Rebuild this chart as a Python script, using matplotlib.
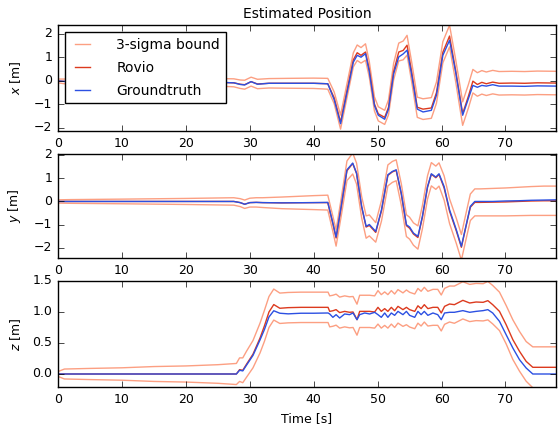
import numpy as np
import matplotlib
matplotlib.use('Agg')
import matplotlib.pyplot as plt

# ---- data (time in s, values in m) ----
# x position
t_x = [0, 1, 5, 10, 15, 20, 25, 27.5, 28.5, 29.2, 30.2, 31.2, 33, 36, 40, 42.2,
       43.2, 44.2, 45.2, 46.2, 46.8, 47.4, 48.1, 48.7, 49.5, 50.1, 51.1, 51.7,
       52.5, 53.3, 54.0, 54.6, 55.3, 56.2, 57.1, 58.4, 59.2, 60.2, 61.25, 62.2,
       63.3, 64.2, 64.9, 65.6, 66.3, 67.0, 68.0, 69.0, 71, 73, 75, 77.9]
gt_x = [0.0, -0.02, -0.03, -0.04, -0.05, -0.05, -0.06, -0.08, -0.15, -0.17, -0.03,
        -0.14, -0.1, -0.1, -0.1, -0.12, -0.8, -1.82, -0.5, 0.8, 1.09, 1.01, 1.16,
        0.38, -1.05, -1.46, -1.63, -1.2, 0.3, 1.02, 1.15, 1.31, 0.3, -1.2, -1.32,
        -1.25, -0.61, 1.09, 1.73, 0.38, -1.46, -0.75, -0.19, -0.27, -0.19, -0.22,
        -0.16, -0.22, -0.22, -0.23, -0.21, -0.22]
rovio_x = [0.0, -0.02, -0.03, -0.04, -0.05, -0.05, -0.06, -0.08, -0.14, -0.16, -0.03,
           -0.13, -0.1, -0.1, -0.1, -0.12, -0.72, -1.75, -0.42, 0.9, 1.2, 1.09, 1.23,
           0.48, -0.98, -1.4, -1.55, -1.12, 0.4, 1.23, 1.3, 1.52, 0.42, -1.12, -1.2,
           -1.15, -0.5, 1.22, 1.91, 0.45, -1.39, -0.65, -0.01, -0.15, -0.06, -0.12,
           -0.05, -0.1, -0.09, -0.1, -0.08, -0.09]
sig3_x = [0.08, 0.1, 0.12, 0.13, 0.14, 0.15, 0.16, 0.17, 0.18, 0.19, 0.19, 0.2,
          0.2, 0.21, 0.22, 0.23, 0.25, 0.3, 0.3, 0.3, 0.33, 0.33, 0.35, 0.33, 0.3,
          0.3, 0.3, 0.32, 0.35, 0.38, 0.4, 0.42, 0.42, 0.43, 0.44, 0.44, 0.45, 0.45,
          0.46, 0.47, 0.5, 0.5, 0.5, 0.5, 0.5, 0.5, 0.5, 0.5, 0.5, 0.5, 0.5, 0.5]

# y position
t_y = [0, 2, 10, 20, 27.5, 28.5, 29.2, 30, 31, 32, 35, 40, 42.2, 43.0, 43.5, 44.3,
       45.2, 46.1, 46.7, 47.5, 48.2, 48.7, 49.7, 50.6, 51.6, 52.3, 52.9, 53.7, 54.5,
       55.0, 55.6, 56.3, 57.0, 57.8, 58.4, 59.1, 59.6, 60.4, 61.25, 62.3, 63.1, 63.8,
       64.5, 65.2, 66, 68, 70, 72, 74, 76, 77.9]
gt_y = [0.0, 0.0, 0.0, 0.0, 0.0, -0.05, -0.12, -0.05, -0.04, -0.05, -0.06, -0.05,
        -0.04, -0.93, -1.53, -0.2, 1.36, 1.65, 1.22, -0.21, -1.07, -0.99, -1.29,
        -0.36, 1.15, 1.29, 1.36, 0.36, -1.0, -1.1, -1.36, -1.5, -0.64, 0.64, 1.19,
        1.05, 1.19, 0.64, -0.36, -1.21, -1.93, -1.07, -0.21, 0.0, 0.0, 0.0, 0.02,
        0.03, 0.05, 0.06, 0.07]
rovio_y = [0.0, 0.0, 0.0, 0.0, 0.0, -0.05, -0.12, -0.05, -0.04, -0.05, -0.06, -0.05,
           -0.05, -0.97, -1.57, -0.25, 1.32, 1.63, 1.2, -0.25, -1.1, -1.03, -1.33,
           -0.4, 1.12, 1.27, 1.34, 0.3, -1.04, -1.15, -1.4, -1.55, -0.68, 0.6, 1.17,
           1.02, 1.16, 0.58, -0.42, -1.26, -1.97, -1.1, -0.25, -0.04, -0.04, -0.03,
           -0.02, 0.0, 0.02, 0.03, 0.03]
sig3_y = [0.07, 0.08, 0.1, 0.13, 0.16, 0.17, 0.18, 0.19, 0.2, 0.21, 0.25, 0.3, 0.32,
          0.33, 0.35, 0.38, 0.42, 0.45, 0.45, 0.46, 0.48, 0.45, 0.42, 0.44, 0.45,
          0.45, 0.45, 0.46, 0.47, 0.47, 0.48, 0.5, 0.5, 0.5, 0.5, 0.5, 0.5, 0.52,
          0.53, 0.54, 0.55, 0.56, 0.57, 0.58, 0.58, 0.59, 0.6, 0.61, 0.62, 0.63, 0.63]

# z position
t_z = [0, 1, 5, 10, 15, 20, 25, 27.9, 28.4, 28.9, 29.5, 30.5, 31.6, 32.3, 33.0,
       33.75, 34.7, 36, 38, 40, 42.24, 42.5, 43.0, 43.5, 44.06, 44.84, 45.6, 46.15,
       46.77, 47.19, 47.97, 48.75, 49.53, 50.05, 50.57, 51.1, 51.6, 52.14, 52.66,
       53.18, 53.96, 54.5, 55.0, 55.8, 56.3, 56.8, 57.3, 57.86, 58.65, 59.4, 59.95,
       60.47, 61.25, 62.0, 63.33, 64.4, 65.4, 66.5, 67.24, 68.0, 69.06, 70.1, 71.15,
       72.19, 73.23, 74.27, 77.9]
gt_z = [0.0, 0.0, 0.0, 0.0, 0.0, 0.0, 0.0, 0.0, 0.06, 0.05, 0.145, 0.3, 0.55, 0.72,
        0.92, 1.02, 0.98, 0.97, 0.98, 0.98, 0.984, 0.968, 0.914, 0.957, 0.903, 0.968,
        0.957, 0.984, 0.876, 0.957, 0.984, 0.968, 0.995, 0.957, 0.914, 0.984, 0.914,
        0.984, 0.946, 1.01, 0.957, 1.01, 0.946, 0.914, 1.01, 0.957, 1.01, 0.946,
        0.984, 0.957, 0.876, 0.984, 0.995, 0.995, 1.022, 0.995, 1.01, 1.022, 1.038,
        0.984, 0.849, 0.634, 0.419, 0.231, 0.097, 0.0, 0.0]
rovio_z = [0.0, 0.0, 0.0, 0.0, 0.0, 0.0, 0.0, 0.0, 0.07, 0.06, 0.16, 0.32, 0.58, 0.78,
           1.0, 1.12, 1.06, 1.07, 1.075, 1.075, 1.075, 1.01, 1.02, 1.038, 0.99, 1.01,
           0.995, 1.0, 0.876, 1.01, 1.01, 1.01, 1.0, 1.075, 1.01, 1.054, 1.01, 1.075,
           1.02, 1.091, 1.038, 1.075, 1.038, 1.01, 1.1, 1.054, 1.118, 1.054, 1.075,
           1.075, 0.984, 1.091, 1.129, 1.118, 1.188, 1.145, 1.161, 1.156, 1.183,
           1.118, 1.01, 0.796, 0.554, 0.366, 0.204, 0.108, 0.108]
sig3_z = [0.04, 0.08, 0.09, 0.1, 0.12, 0.13, 0.15, 0.17, 0.19, 0.2, 0.21, 0.22, 0.24,
          0.25, 0.25, 0.25, 0.245, 0.245, 0.245, 0.245, 0.245, 0.25, 0.25, 0.25, 0.25,
          0.25, 0.25, 0.25, 0.25, 0.26, 0.26, 0.26, 0.26, 0.27, 0.27, 0.27, 0.27, 0.27,
          0.27, 0.27, 0.27, 0.28, 0.28, 0.28, 0.28, 0.28, 0.28, 0.28, 0.29, 0.29, 0.29,
          0.29, 0.29, 0.3, 0.3, 0.3, 0.3, 0.3, 0.31, 0.31, 0.31, 0.31, 0.32, 0.32, 0.32,
          0.33, 0.33]

ylabels = ['$x$ [m]', '$y$ [m]', '$z$ [m]']
ylims = [(-2.13, 2.38), (-2.43, 2.04), (-0.21, 1.5)]

# ---- style ----
plt.style.use('classic')
plt.rcParams['figure.facecolor'] = 'white'
plt.rcParams['savefig.facecolor'] = 'white'
plt.rcParams['font.family'] = 'DejaVu Sans'
plt.rcParams['mathtext.fontset'] = 'dejavusans'
plt.rcParams['xtick.labelsize'] = 9
plt.rcParams['ytick.labelsize'] = 9

c_bound = '#fc9f82'
c_rovio = '#dc3a1e'
c_gt = '#2c50e2'

fig = plt.figure(figsize=(5.58, 4.26), dpi=100)
rects = [[0.104, 0.6925, 0.8924, 0.2488],
         [0.104, 0.3944, 0.8924, 0.2441],
         [0.104, 0.0915, 0.8924, 0.2489]]

series = [(t_x, gt_x, rovio_x, sig3_x),
          (t_y, gt_y, rovio_y, sig3_y),
          (t_z, gt_z, rovio_z, sig3_z)]

axes = []
for i, (t, gt, rov, s3) in enumerate(series):
    ax = fig.add_axes(rects[i])
    t = np.array(t)
    rov = np.array(rov)
    s3 = np.array(s3)
    ax.plot(t, rov + s3, color=c_bound, lw=1.0, label='3-sigma bound')
    ax.plot(t, rov - s3, color=c_bound, lw=1.0)
    ax.plot(t, rov, color=c_rovio, lw=1.0, label='Rovio')
    ax.plot(t, gt, color=c_gt, lw=1.0, label='Groundtruth')
    ax.set_xlim(0, 77.9)
    ax.set_ylim(*ylims[i])
    ax.set_xticks(np.arange(0, 71, 10))
    ax.set_ylabel(ylabels[i], fontsize=9)
    ax.yaxis.set_label_coords(-0.07, 0.5)
    axes.append(ax)

axes[0].set_yticks([-2, -1, 0, 1, 2])
axes[1].set_yticks([-2, -1, 0, 1, 2])
axes[2].set_yticks([0.0, 0.5, 1.0, 1.5])
axes[2].set_yticklabels(['0.0', '0.5', '1.0', '1.5'])

axes[0].set_title('Estimated Position', fontsize=10)
axes[2].set_xlabel('Time [s]', fontsize=9)
axes[0].legend(loc='upper left', fontsize=10, handlelength=1.7,
               handletextpad=1.6, labelspacing=0.65, fancybox=False)

fig.savefig('out.png', dpi=100)
